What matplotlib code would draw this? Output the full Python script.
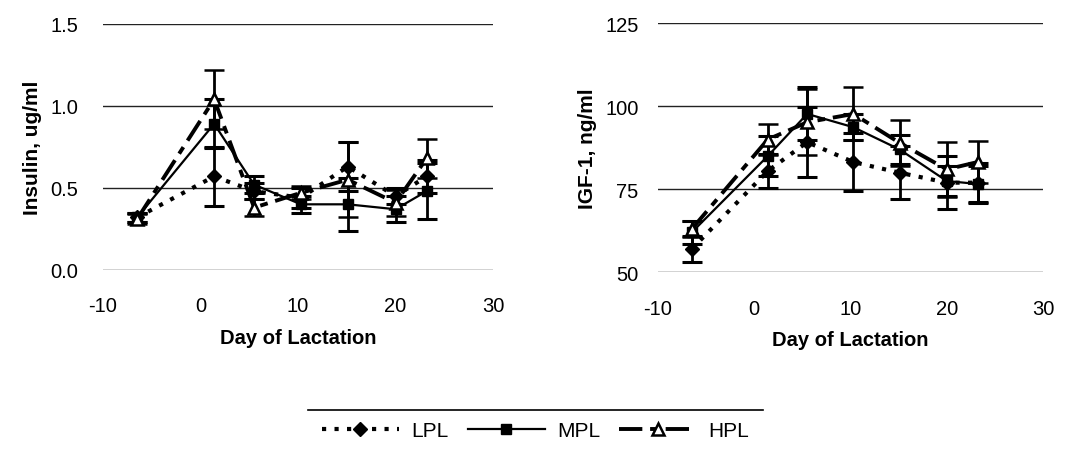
import matplotlib
matplotlib.use("Agg")
import matplotlib.pyplot as plt
from matplotlib.lines import Line2D

plt.rcParams['font.family'] = ['Liberation Sans', 'DejaVu Sans']
plt.rcParams['axes.unicode_minus'] = False

days = [-6.5, 1.4, 5.5, 10.3, 15.1, 20.0, 23.2]

# Insulin, ug/ml
ins_lpl = [0.32, 0.57, 0.48, 0.44, 0.63, 0.45, 0.57]
ins_lpl_err = [0.03, 0.18, 0.05, 0.06, 0.15, 0.05, 0.10]
ins_mpl = [0.32, 0.89, 0.52, 0.40, 0.40, 0.37, 0.48]
ins_mpl_err = [0.03, 0.15, 0.05, 0.05, 0.16, 0.08, 0.17]
ins_hpl = [0.31, 1.04, 0.38, 0.47, 0.55, 0.41, 0.68]
ins_hpl_err = [0.03, 0.18, 0.05, 0.04, 0.23, 0.08, 0.12]

# IGF-1, ng/ml
igf_lpl = [57.0, 80.5, 89.2, 83.2, 80.0, 77.0, 77.0]
igf_lpl_err = [4.0, 5.0, 10.5, 8.7, 8.0, 8.0, 6.0]
igf_mpl = [62.0, 85.0, 97.7, 93.7, 87.0, 77.5, 76.6]
igf_mpl_err = [3.5, 6.0, 8.0, 4.0, 4.5, 4.5, 5.5]
igf_hpl = [63.0, 90.0, 95.2, 97.7, 89.0, 81.0, 83.2]
igf_hpl_err = [2.5, 4.7, 10.0, 8.0, 7.0, 8.3, 6.4]

series_names = ['LPL', 'MPL', 'HPL']
xticks = [-10, 0, 10, 20, 30]

fig = plt.figure(figsize=(10.67, 4.56), dpi=100)
W, H = 1067, 456

def axes_px(x0, x1, ytop, ybot):
    return fig.add_axes([x0 / W, (H - ybot) / H, (x1 - x0) / W, (ybot - ytop) / H])

ax1 = axes_px(103, 493, 24.7, 271)
ax2 = axes_px(658, 1043, 24.3, 273.3)

styles = {
    'LPL': dict(ls=(0, (1, 2)), lw=3.0, marker='D', ms=7, mfc='black', mec='black'),
    'MPL': dict(ls='-', lw=1.6, marker='s', ms=7, mfc='black', mec='black'),
    'HPL': dict(ls=(0, (6, 2, 2, 2)), lw=2.8, marker='^', ms=8, mfc='white', mec='black', mew=1.8),
}

def draw(ax, data, ylim, yticks, yfmt, ylabel, ypad):
    for name, (vals, err) in zip(series_names, data):
        st = styles[name]
        ax.errorbar(days, vals, yerr=err, color='black', ecolor='black',
                    elinewidth=2.0, capsize=7, capthick=2.2, zorder=3,
                    **st)
    ax.set_xlim(-10, 30)
    ax.set_ylim(*ylim)
    ax.set_xticks(xticks)
    ax.set_yticks(yticks)
    ax.set_yticklabels([yfmt.format(v) for v in yticks])
    for s in ax.spines.values():
        s.set_visible(False)
    ax.yaxis.grid(True, color='#222222', lw=1.0)
    ax.set_axisbelow(True)
    ax.tick_params(axis='both', length=0, labelsize=14.5)
    ax.tick_params(axis='x', pad=19)
    ax.tick_params(axis='y', pad=ypad)
    ax.set_xlabel('Day of Lactation', fontsize=14.5, fontweight='bold', labelpad=9)
    ax.set_ylabel(ylabel, fontsize=15, fontweight='bold', labelpad=6)

draw(ax1, [(ins_lpl, ins_lpl_err), (ins_mpl, ins_mpl_err), (ins_hpl, ins_hpl_err)],
     (0, 1.5), [0.0, 0.5, 1.0, 1.5], '{:.1f}', 'Insulin, ug/ml', 18)
draw(ax2, [(igf_lpl, igf_lpl_err), (igf_mpl, igf_mpl_err), (igf_hpl, igf_hpl_err)],
     (50, 125), [50, 75, 100, 125], '{:.0f}', 'IGF-1, ng/ml', 14)

handles = [Line2D([], [], color='black', **styles[n]) for n in series_names]
fig.legend(handles, series_names, loc='center', bbox_to_anchor=(0.502, 0.053),
           ncol=3, frameon=False, fontsize=15, handlelength=3.7,
           columnspacing=0.9, handletextpad=0.6)
fig.add_artist(Line2D([308 / W, 763 / W], [(H - 411) / H] * 2, color='black', lw=1.2))

fig.savefig('out.png', dpi=100)
